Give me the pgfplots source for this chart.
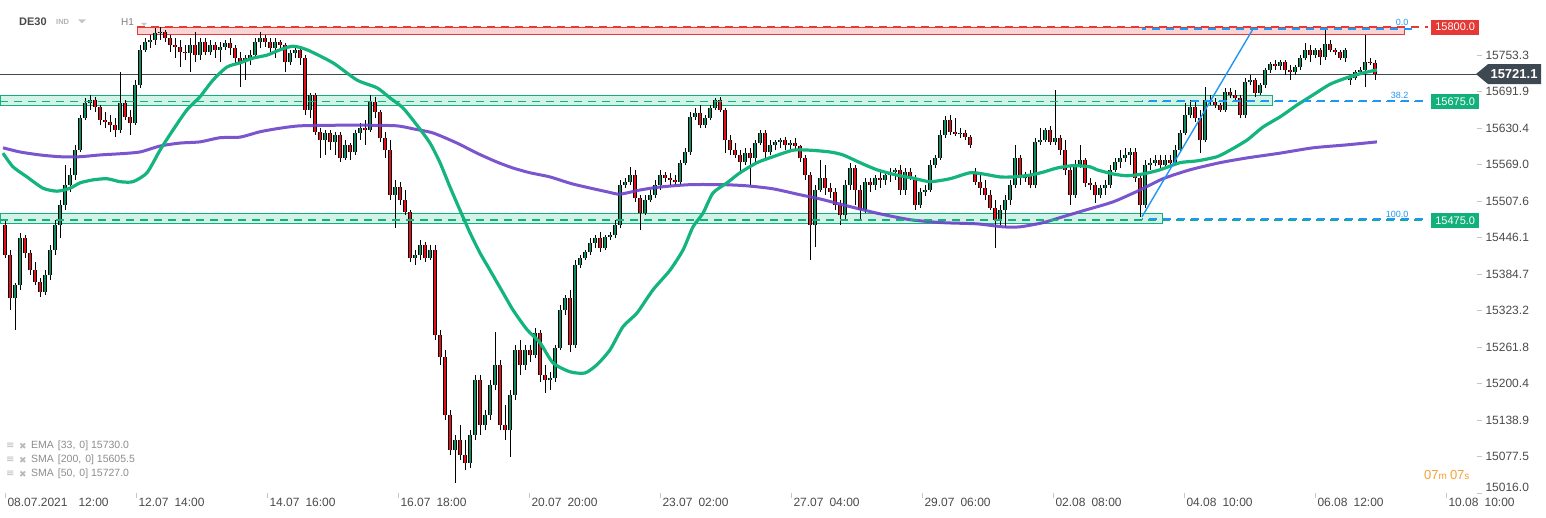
\documentclass[border=0pt]{standalone}
\usepackage{pgfplots}
\pgfplotsset{compat=1.18}
\usepackage{pgfplotstable}
\usepackage{fontspec}
\setmainfont{Liberation Sans}
\newfontfamily\dejavu{DejaVu Sans}
\definecolor{cgreen}{HTML}{138A5E}
\definecolor{cred}{HTML}{E3101A}
\definecolor{magreen}{HTML}{14B47D}
\definecolor{mapurple}{HTML}{6B42C8}
\definecolor{zonegreen}{HTML}{D4F3E8}
\definecolor{zonegreenline}{HTML}{12B07B}
\definecolor{zonered}{HTML}{FAD4D4}
\definecolor{linered}{HTML}{E53935}
\definecolor{fibblue}{HTML}{2196F3}
\definecolor{pricegray}{HTML}{3E4852}
\definecolor{labelgray}{HTML}{4A4A4A}
\definecolor{cdorange}{HTML}{F5A033}

\pgfplotstableread{
x o h l c
5 15467 15476 15412 15417
10 15417 15425 15324 15344
15 15344 15370 15291 15366
20 15366 15454 15358 15445
25 15445 15450 15412 15420
30 15420 15425 15383 15391
35 15391 15405 15366 15371
40 15371 15378 15346 15354
45 15354 15391 15349 15383
50 15383 15434 15375 15425
55 15425 15476 15417 15467
60 15467 15509 15445 15501
65 15501 15568 15492 15535
70 15535 15563 15523 15551
75 15551 15602 15543 15593
80 15593 15652 15590 15647
85 15647 15681 15644 15672
90 15672 15686 15661 15678
95 15678 15683 15657 15666
100 15666 15669 15635 15644
105 15644 15657 15630 15641
110 15641 15652 15624 15635
115 15635 15647 15615 15627
120 15627 15725 15622 15672
125 15672 15678 15644 15649
130 15649 15661 15619 15639
135 15639 15711 15635 15703
140 15703 15770 15698 15762
145 15762 15782 15758 15775
150 15775 15787 15765 15779
155 15779 15799 15770 15790
160 15790 15800 15779 15792
165 15792 15795 15775 15782
170 15782 15787 15758 15770
175 15770 15782 15748 15767
180 15767 15779 15733 15758
185 15758 15770 15745 15757
190 15757 15782 15725 15770
195 15770 15792 15741 15753
200 15753 15782 15745 15775
205 15775 15782 15753 15758
210 15758 15779 15753 15770
215 15770 15775 15748 15762
220 15762 15775 15741 15767
225 15767 15779 15762 15773
230 15773 15782 15753 15765
235 15765 15770 15736 15748
240 15748 15758 15699 15741
245 15741 15753 15711 15748
250 15748 15762 15736 15753
255 15753 15782 15748 15775
260 15775 15792 15765 15782
265 15782 15787 15767 15775
270 15775 15782 15753 15765
275 15765 15782 15748 15775
280 15775 15779 15765 15770
285 15770 15773 15725 15741
290 15741 15762 15736 15757
295 15757 15765 15748 15762
300 15762 15765 15736 15748
305 15748 15753 15652 15661
310 15661 15689 15647 15686
315 15686 15689 15619 15624
320 15624 15630 15580 15610
325 15610 15627 15585 15622
330 15622 15627 15593 15607
335 15607 15624 15585 15619
340 15619 15624 15573 15580
345 15580 15610 15577 15602
350 15602 15605 15577 15590
355 15590 15627 15585 15622
360 15622 15639 15610 15630
365 15630 15644 15602 15627
370 15627 15686 15624 15674
375 15674 15683 15647 15657
380 15657 15661 15607 15614
385 15614 15624 15580 15593
390 15593 15610 15509 15518
395 15518 15543 15462 15531
400 15531 15540 15501 15509
405 15509 15526 15484 15489
410 15489 15492 15405 15412
415 15412 15425 15400 15417
420 15417 15442 15408 15434
425 15434 15439 15405 15412
430 15412 15434 15408 15425
435 15425 15434 15274 15282
440 15282 15291 15232 15245
445 15245 15257 15139 15148
450 15148 15156 15080 15089
455 15089 15114 15033 15105
460 15105 15131 15072 15080
465 15080 15105 15055 15067
470 15067 15122 15058 15114
475 15114 15215 15105 15206
480 15206 15215 15114 15131
485 15131 15156 15122 15148
490 15148 15206 15139 15198
495 15198 15287 15190 15232
500 15232 15240 15122 15131
505 15131 15164 15105 15122
510 15122 15190 15077 15181
515 15181 15265 15173 15257
520 15257 15274 15215 15232
525 15232 15265 15223 15257
530 15257 15265 15237 15248
535 15248 15294 15243 15286
540 15286 15291 15203 15215
545 15215 15232 15185 15206
550 15206 15220 15190 15210
555 15210 15265 15203 15260
560 15260 15333 15257 15324
565 15324 15349 15316 15344
570 15344 15358 15254 15265
575 15265 15408 15260 15400
580 15400 15417 15395 15412
585 15412 15425 15408 15422
590 15422 15445 15417 15437
595 15437 15450 15429 15445
600 15445 15455 15422 15429
605 15429 15450 15425 15447
610 15447 15455 15442 15450
615 15450 15476 15445 15467
620 15467 15543 15462 15535
625 15535 15546 15529 15540
630 15540 15565 15535 15551
635 15551 15560 15506 15513
640 15513 15518 15459 15487
645 15487 15518 15484 15509
650 15509 15526 15506 15518
655 15518 15543 15513 15535
660 15535 15560 15526 15551
665 15551 15556 15540 15546
670 15546 15555 15535 15543
675 15543 15551 15535 15540
680 15540 15577 15535 15572
685 15572 15597 15568 15590
690 15590 15657 15585 15649
695 15649 15664 15644 15656
700 15656 15669 15630 15635
705 15635 15652 15630 15647
710 15647 15669 15644 15664
715 15664 15681 15661 15678
720 15678 15683 15657 15661
725 15661 15664 15588 15610
730 15610 15619 15585 15593
735 15593 15605 15580 15585
740 15585 15593 15556 15573
745 15573 15597 15568 15588
750 15588 15597 15535 15580
755 15580 15610 15573 15605
760 15605 15627 15602 15622
765 15622 15627 15580 15590
770 15590 15610 15585 15602
775 15602 15610 15593 15607
780 15607 15614 15597 15610
785 15610 15615 15593 15602
790 15602 15610 15593 15605
795 15605 15614 15593 15600
800 15600 15602 15573 15580
805 15580 15585 15543 15551
810 15551 15556 15408 15467
815 15467 15535 15430 15526
820 15526 15577 15523 15546
825 15546 15568 15518 15529
830 15529 15538 15513 15523
835 15523 15529 15492 15501
840 15501 15509 15467 15484
845 15484 15543 15476 15535
850 15535 15572 15526 15563
855 15563 15568 15501 15526
860 15526 15535 15476 15492
865 15492 15546 15487 15540
870 15540 15546 15523 15535
875 15535 15551 15526 15546
880 15546 15560 15529 15543
885 15543 15556 15535 15551
890 15551 15563 15540 15556
895 15556 15563 15543 15560
900 15560 15568 15518 15526
905 15526 15563 15518 15556
910 15556 15563 15543 15546
915 15546 15551 15492 15501
920 15501 15529 15496 15523
925 15523 15535 15516 15526
930 15526 15577 15523 15568
935 15568 15585 15563 15580
940 15580 15627 15577 15619
945 15619 15651 15614 15644
950 15644 15652 15619 15624
955 15624 15647 15617 15620
960 15620 15630 15614 15622
965 15622 15627 15610 15615
970 15615 15619 15597 15602
975 15556 15563 15535 15540
980 15540 15551 15518 15529
985 15529 15543 15509 15518
990 15518 15526 15492 15496
995 15496 15509 15429 15476
1000 15476 15501 15467 15492
1005 15492 15518 15462 15509
1010 15509 15543 15501 15535
1015 15535 15602 15529 15580
1020 15580 15585 15535 15546
1025 15546 15556 15540 15551
1030 15551 15560 15529 15535
1035 15535 15614 15529 15607
1040 15607 15630 15602 15610
1045 15610 15630 15607 15627
1050 15627 15634 15602 15607
1055 15607 15694 15602 15614
1060 15614 15619 15585 15593
1065 15593 15610 15551 15560
1070 15560 15568 15501 15518
1075 15518 15577 15513 15568
1080 15568 15602 15563 15577
1085 15577 15580 15531 15538
1090 15538 15546 15526 15535
1095 15535 15540 15504 15518
1100 15518 15535 15513 15529
1105 15529 15543 15518 15535
1110 15535 15568 15529 15560
1115 15560 15580 15556 15573
1120 15573 15593 15563 15580
1125 15580 15597 15573 15585
1130 15585 15597 15568 15590
1135 15590 15597 15540 15546
1140 15546 15551 15481 15501
1145 15501 15577 15496 15568
1150 15568 15580 15560 15572
1155 15572 15585 15567 15577
1160 15577 15585 15563 15568
1165 15568 15585 15563 15577
1170 15577 15585 15563 15572
1175 15572 15602 15568 15593
1180 15593 15627 15590 15622
1185 15622 15672 15619 15652
1190 15652 15678 15647 15666
1195 15666 15678 15641 15647
1200 15647 15661 15588 15610
1205 15610 15699 15607 15678
1210 15678 15686 15669 15674
1215 15674 15681 15664 15669
1220 15669 15672 15657 15661
1225 15661 15698 15657 15691
1230 15691 15698 15681 15686
1235 15686 15694 15678 15681
1240 15681 15686 15647 15652
1245 15652 15715 15647 15708
1250 15708 15720 15703 15711
1255 15711 15715 15683 15689
1260 15689 15706 15686 15703
1265 15703 15731 15698 15728
1270 15728 15741 15723 15738
1275 15738 15745 15728 15735
1280 15735 15745 15728 15741
1285 15741 15745 15720 15728
1290 15728 15736 15711 15725
1295 15725 15736 15720 15733
1300 15733 15753 15728 15748
1305 15748 15773 15745 15762
1310 15762 15770 15741 15753
1315 15753 15765 15748 15762
1320 15762 15765 15736 15750
1325 15750 15795 15745 15772
1330 15772 15779 15758 15762
1335 15762 15765 15753 15758
1340 15758 15762 15745 15748
1345 15748 15765 15741 15762
1350 15711 15718 15703 15715
1355 15715 15728 15711 15725
1360 15725 15733 15720 15728
1365 15728 15787 15699 15741
1370 15741 15748 15736 15740
1375 15740 15745 15711 15721
}\candles

\begin{document}
\begin{tikzpicture}
\useasboundingbox (0pt,-518pt) rectangle (1546pt,0pt);
\begin{axis}[
  at={(0pt,-493pt)}, anchor=south west,
  scale only axis, width=1477pt, height=493pt,
  xmin=0, xmax=1477, ymin=15016, ymax=15845.8,
  clip=false,
  separate axis lines, axis x line*=bottom, axis y line*=right,
  axis line style={draw=none},
  tick align=outside, major tick length=5pt,
  tick style={draw=gray!45, line width=0.7pt},
  xtick={5,136,267,398,529,660,791,922,1053,1184,1315,1446},
  xticklabels={08.07.2021\hspace{11pt}12:00,12.07\hspace{6pt}14:00,14.07\hspace{6pt}16:00,16.07\hspace{6pt}18:00,20.07\hspace{6pt}20:00,23.07\hspace{6pt}02:00,27.07\hspace{6pt}04:00,29.07\hspace{6pt}06:00,02.08\hspace{6pt}08:00,04.08\hspace{6pt}10:00,06.08\hspace{6pt}12:00,10.08\hspace{6pt}10:00},
  xticklabel style={anchor=north west, font=\fontsize{12}{14}\selectfont, text=labelgray, xshift=-1pt, yshift=3pt},
  ytick={15077.5,15138.9,15200.4,15261.8,15323.2,15384.7,15446.1,15507.6,15569.0,15630.4,15691.9,15753.3},
  yticklabels={15077.5,15138.9,15200.4,15261.8,15323.2,15384.7,15446.1,15507.6,15569.0,15630.4,15691.9,15753.3},
  yticklabel style={font=\fontsize{12}{14}\selectfont, text=labelgray},
  extra y ticks={15016.0},
  extra y tick labels={15016.0},
  extra y tick style={yticklabel style={yshift=6pt}},
]
% zones
\addplot[fill=zonered, draw=linered, line width=0.9pt] coordinates {(137,15788.6) (1404,15788.6) (1404,15800) (137,15800)} -- cycle;
\addplot[fill=zonegreen, draw=zonegreenline, line width=0.9pt] coordinates {(0,15667.5) (1272,15667.5) (1272,15684.3) (0,15684.3)} -- cycle;
\addplot[fill=zonegreen, draw=zonegreenline, line width=0.9pt] coordinates {(0,15468.9) (1162,15468.9) (1162,15485.7) (0,15485.7)} -- cycle;
% current price line
\addplot[pricegray, line width=0.8pt] coordinates {(0,15721.1) (1477,15721.1)};
% candles: wicks
\addplot[black, line width=0.7pt, quiver={u=0, v=\thisrow{h}-\thisrow{l}}] table[x=x, y=l] {\candles};
% candle bodies outline
\addplot[black, line width=3.8pt, quiver={u=0, v=\thisrow{c}-\thisrow{o}}] table[x=x, y=o] {\candles};
\addplot[cgreen, line width=2.3pt, quiver={u=0, v=\thisrow{c}-\thisrow{o}}, restrict expr to domain={\thisrow{c}-\thisrow{o}}{0:10000}] table[x=x, y=o] {\candles};
\addplot[cred, line width=2.3pt, quiver={u=0, v=\thisrow{c}-\thisrow{o}}, restrict expr to domain={\thisrow{c}-\thisrow{o}}{-10000:-0.5}] table[x=x, y=o] {\candles};
% SMA 200 (purple)
\addplot[mapurple, line width=3pt, opacity=0.9, smooth, tension=0.4] coordinates {
(3,15597) (20,15590) (40,15585) (60,15582) (80,15582) (100,15585) (120,15587) (140,15590) (160,15600) (180,15605) (200,15607) (220,15614) (240,15615) (260,15624) (280,15630) (300,15634) (337,15635) (370,15635) (397,15634) (413,15629) (433,15622) (457,15605) (477,15588) (497,15573) (513,15563) (530,15555) (550,15548) (573,15536) (607,15523) (620,15519) (640,15526) (660,15531) (690,15535) (723,15535) (747,15533) (773,15528) (800,15518) (820,15511) (843,15501) (877,15487) (910,15476) (943,15471) (977,15469) (1003,15464) (1020,15464) (1043,15471) (1063,15481) (1083,15491) (1113,15506) (1140,15526) (1163,15545) (1190,15560) (1220,15572) (1247,15580) (1280,15588) (1313,15597) (1347,15602) (1377,15607)};
% EMA 33 (green)
\addplot[magreen, line width=3.2pt, smooth, tension=0.4] coordinates {
(3,15588) (13,15565) (27,15548) (43,15529) (57,15524) (70,15529) (80,15538) (93,15543) (107,15545) (120,15540) (133,15540) (147,15555) (160,15593) (173,15627) (187,15661) (200,15683) (213,15711) (227,15733) (240,15740) (253,15748) (267,15753) (280,15762) (293,15768) (307,15762) (333,15740) (357,15711) (377,15698) (390,15681) (403,15664) (417,15635) (430,15605) (440,15572) (450,15531) (460,15492) (470,15454) (480,15420) (490,15391) (503,15353) (513,15324) (527,15291) (540,15269) (553,15235) (570,15220) (585,15218) (597,15232) (610,15257) (623,15296) (637,15319) (653,15358) (670,15391) (683,15425) (693,15464) (703,15487) (713,15521) (727,15538) (740,15555) (757,15572) (773,15582) (793,15593) (810,15593) (830,15590) (843,15585) (860,15572) (877,15560) (897,15551) (913,15546) (930,15540) (950,15545) (970,15555) (983,15553) (1000,15548) (1013,15548) (1030,15551) (1043,15556) (1057,15563) (1073,15567) (1090,15565) (1097,15560) (1113,15553) (1127,15550) (1143,15553) (1160,15560) (1180,15572) (1197,15575) (1217,15582) (1230,15593) (1247,15610) (1263,15632) (1280,15649) (1297,15669) (1313,15686) (1330,15704) (1347,15715) (1363,15723) (1377,15728)};
% dashed levels
\addplot[linered, line width=1.6pt, dash pattern=on 8pt off 6pt] coordinates {(137,15800) (1428,15800)};
\addplot[fibblue, line width=1.6pt, dash pattern=on 8pt off 6pt, dash phase=4pt] coordinates {(1142,15797) (1416,15797)};
\addplot[zonegreenline, line width=1.6pt, dash pattern=on 8pt off 6pt] coordinates {(0,15675) (1428,15675)};
\addplot[fibblue, line width=1.6pt, dash pattern=on 8pt off 6pt, dash phase=7pt] coordinates {(1142,15676) (1428,15676)};
\addplot[zonegreenline, line width=1.6pt, dash pattern=on 8pt off 6pt] coordinates {(0,15475) (1428,15475)};
\addplot[fibblue, line width=1.6pt, dash pattern=on 8pt off 6pt, dash phase=7pt] coordinates {(1142,15477) (1428,15477)};
% fib swing line
\addplot[fibblue, line width=1.4pt] coordinates {(1142,15481) (1253,15797)};
% fib labels
\node[anchor=south east, text=fibblue, font=\fontsize{9}{9}\selectfont, inner sep=1.5pt] at (axis cs:1410,15800) {0.0};
\node[anchor=south east, text=fibblue, font=\fontsize{9}{9}\selectfont, inner sep=1.5pt] at (axis cs:1410,15677) {38.2};
\node[anchor=south east, text=fibblue, font=\fontsize{9}{9}\selectfont, inner sep=1.5pt] at (axis cs:1410,15477) {100.0};
% right level labels
\node[fill=linered, text=white, font=\fontsize{11}{11}\selectfont, minimum width=48pt, minimum height=15pt, inner sep=0pt, anchor=west] at (axis cs:1431,15800) {15800.0};
\node[fill=zonegreenline, text=white, font=\fontsize{11}{11}\selectfont, minimum width=48pt, minimum height=15pt, inner sep=0pt, anchor=west] at (axis cs:1431,15675) {15675.0};
\node[fill=zonegreenline, text=white, font=\fontsize{11}{11}\selectfont, minimum width=48pt, minimum height=15pt, inner sep=0pt, anchor=west] at (axis cs:1431,15475) {15475.0};
\fill[pricegray] (axis cs:1476,15721.1) -- ++(12pt,10pt) -- ++(53pt,0pt) -- ++(0pt,-20pt) -- ++(-53pt,0pt) -- cycle;
\node[text=white, font=\bfseries\fontsize{13}{13}\selectfont, inner sep=0pt] at (axis cs:1514,15721.1) {15721.1};
\end{axis}
% header
\node[anchor=west, inner sep=0pt, font=\bfseries\fontsize{11}{11}\selectfont, text=labelgray] at (19pt,-22pt) {DE30};
\node[anchor=west, inner sep=0pt, font=\bfseries\fontsize{7.5}{8}\selectfont, text=gray!60] at (56pt,-22pt) {IND};
\fill[gray!45] (78pt,-19.5pt) -- (86pt,-19.5pt) -- (82pt,-23.5pt) -- cycle;
\node[anchor=west, inner sep=0pt, font=\fontsize{10}{10}\selectfont, text=gray] at (121pt,-22pt) {H1};
\fill[gray!45] (141pt,-23pt) -- (147pt,-23pt) -- (144pt,-26pt) -- cycle;
% legend
\foreach \yy/\txt in {446/{EMA\hspace{4pt}[33,\hspace{4pt}0] 15730.0}, 460/{SMA\hspace{4pt}[200,\hspace{4pt}0] 15605.5}, 474/{SMA\hspace{4pt}[50,\hspace{4pt}0] 15727.0}} {
  \node[anchor=west, inner sep=0pt, text=gray!55, font=\dejavu\fontsize{10}{10}\selectfont] at (6pt,-\yy pt) {≡};
  \node[anchor=west, inner sep=0pt, text=gray!55, font=\dejavu\fontsize{9}{9}\selectfont] at (19pt,-\yy pt) {✖};
  \node[anchor=west, inner sep=0pt, text=gray!90, font=\fontsize{10.5}{10.5}\selectfont] at (31pt,-\yy pt) {\txt};
}
% countdown
\node[anchor=west, inner sep=0pt, text=cdorange] at (1424pt,-475pt) {{\fontsize{13}{13}\selectfont 07}{\fontsize{10}{10}\selectfont m}\hspace{3pt}{\fontsize{13}{13}\selectfont 07}{\fontsize{10}{10}\selectfont s}};
\end{tikzpicture}
\end{document}
